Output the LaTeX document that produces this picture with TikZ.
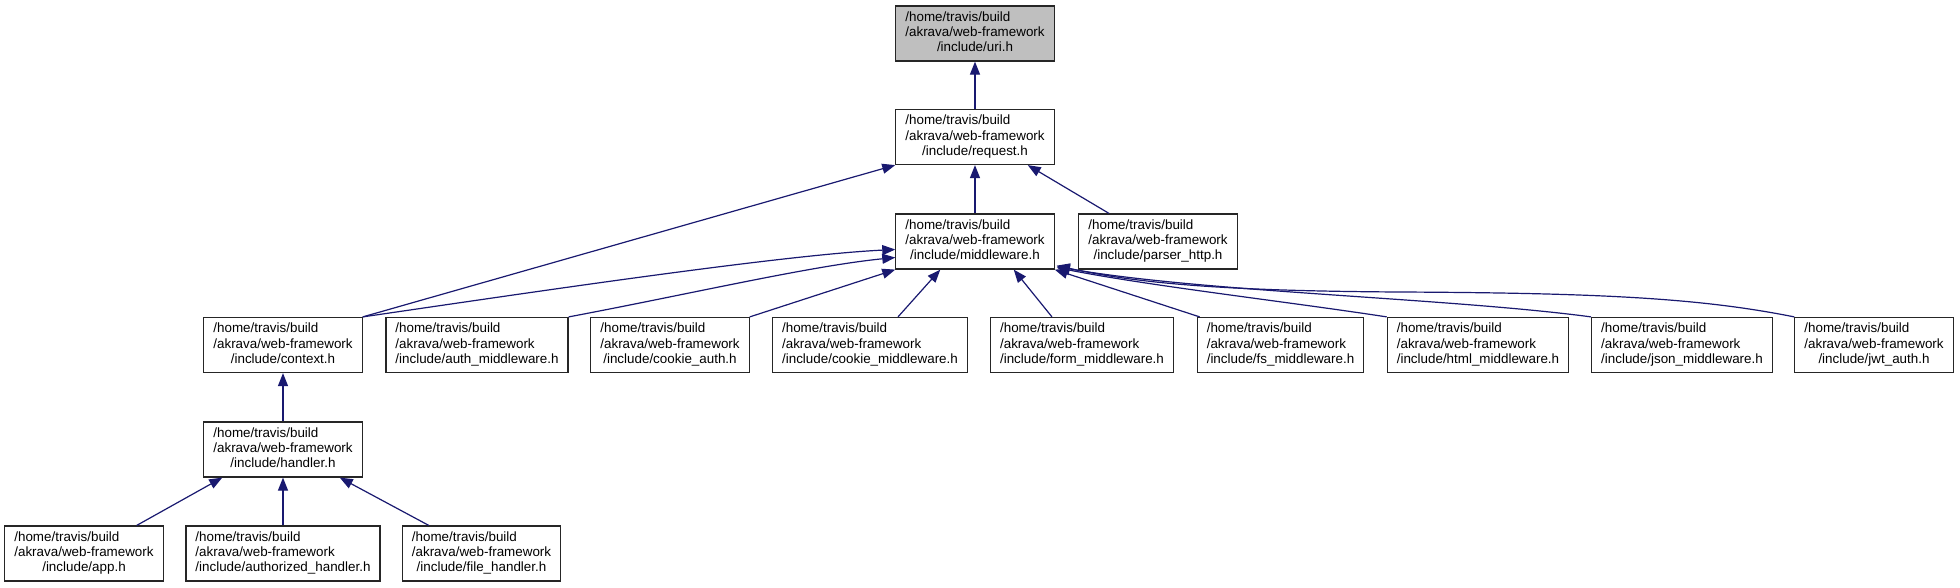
\documentclass[tikz,border=0pt]{standalone}
\usepackage{fontspec}
\setmainfont{Liberation Sans}
\usetikzlibrary{arrows.meta,calc}
\definecolor{edgeblue}{HTML}{191970}
\definecolor{nodegray}{HTML}{BFBFBF}
\newcommand\flbl[1]{\begin{tabular}{@{}l@{}}/home/travis/build\\/akrava/web-framework\\\multicolumn{1}{@{}c@{}}{/include/#1}\end{tabular}}
\begin{document}
\begin{tikzpicture}[x=1pt,y=-1pt,
  box/.style={draw=black!85, line width=1.2pt, fill=white, inner xsep=9.5pt, inner ysep=0pt,
    minimum height=55pt, font=\fontsize{13.4}{15.2}\selectfont},
  dep/.style={draw=edgeblue, line width=1.2pt, {Triangle[length=13pt,width=10pt,fill=edgeblue]}-}]
\useasboundingbox[fill=white] (0,0) rectangle (1960,587);
% row 1-3
\node[box, fill=nodegray] (uri) at (975,33.5) {\flbl{uri.h}};
\node[box] (req) at (975,137) {\flbl{request.h}};
\node[box] (mw) at (975,241.5) {\flbl{middleware.h}};
\node[box] (parser) at (1158,241.5) {\flbl{parser\_http.h}};
% row 4
\node[box] (ctx) at (283,345) {\flbl{context.h}};
\node[box] (auth) at (477,345) {\flbl{auth\_middleware.h}};
\node[box] (cauth) at (670,345) {\flbl{cookie\_auth.h}};
\node[box] (cmw) at (870,345) {\flbl{cookie\_middleware.h}};
\node[box] (form) at (1082,345) {\flbl{form\_middleware.h}};
\node[box] (fs) at (1280.5,345) {\flbl{fs\_middleware.h}};
\node[box] (html) at (1478,345) {\flbl{html\_middleware.h}};
\node[box] (json) at (1682,345) {\flbl{json\_middleware.h}};
\node[box] (jwt) at (1874,345) {\flbl{jwt\_auth.h}};
% row 5-6
\node[box] (handler) at (283,449.5) {\flbl{handler.h}};
\node[box] (app) at (84,553.5) {\flbl{app.h}};
\node[box] (authz) at (283,553.5) {\flbl{authorized\_handler.h}};
\node[box] (fileh) at (481.5,553.5) {\flbl{file\_handler.h}};
% edges
\draw[dep] (uri.south) -- (req.north);
\draw[dep] (req.south) -- (mw.north);
\draw[dep] ($(req.south east)+(-27,0)$) -- ($(parser.north)+(-49,0)$);
\draw[dep] (req.south west) -- (ctx.north east);
\draw[dep] ($(mw.west)+(0,8)$) .. controls (780,255) and (520,294) .. (ctx.north east);
\draw[dep] ($(mw.west)+(0,16)$) .. controls (810,266) and (690,294) .. (auth.north east);
\draw[dep] (mw.south west) -- (cauth.north east);
\draw[dep] ($(mw.south west)+(45,0)$) -- ($(cmw.north east)+(-70,0)$);
\draw[dep] ($(mw.south east)+(-41,0)$) -- ($(form.north west)+(62,0)$);
\draw[dep] (mw.south east) -- ($(fs.north west)+(3,0)$);
\draw[dep] ($(mw.south east)+(2,-2)$) .. controls (1150,286) and (1290,302) .. (html.north west);
\draw[dep] ($(mw.south east)+(2,-3)$) .. controls (1200,292) and (1450,298) .. (json.north west);
\draw[dep] ($(mw.south east)+(2,-4)$) .. controls (1140,284) and (1230,291) .. (1400,292)
  .. controls (1600,293) and (1700,298) .. (jwt.north west);
\draw[dep] (ctx.south) -- (handler.north);
\draw[dep] ($(handler.south west)+(19,0)$) -- ($(app.north east)+(-27,0)$);
\draw[dep] (handler.south) -- (authz.north);
\draw[dep] ($(handler.south east)+(-23,0)$) -- ($(fileh.north west)+(27,0)$);
\end{tikzpicture}
\end{document}
